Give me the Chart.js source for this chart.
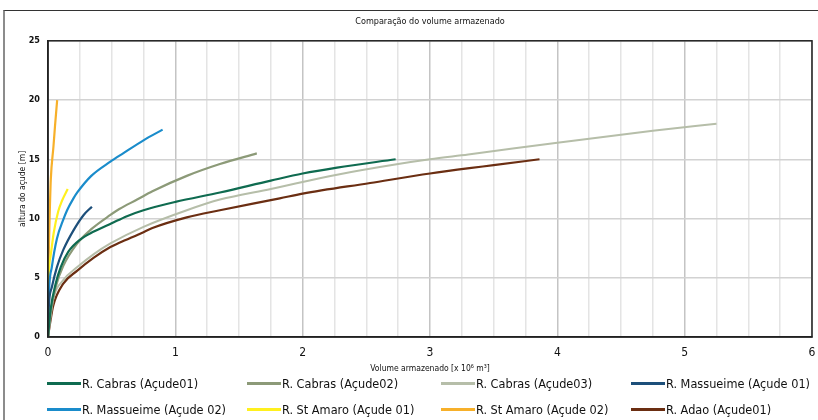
<!DOCTYPE html>
<html><head><meta charset="utf-8">
<script src="https://cdn.jsdelivr.net/npm/chart.js@4/dist/chart.umd.min.js"></script>
<style>
html,body{margin:0;padding:0;background:#fff;}
#wrap{position:relative;width:818px;height:420px;overflow:hidden;background:#fff;}
#frame{position:absolute;left:3px;top:10px;width:830px;height:430px;border-top:1px solid #333;border-left:2px solid #8c8c8c;box-sizing:border-box;pointer-events:none;}
#c{position:absolute;left:0;top:0;}
#legend{position:absolute;left:0;top:0;width:818px;height:420px;font-family:"DejaVu Sans Condensed","DejaVu Sans",sans-serif;font-size:12.6px;color:#111;pointer-events:none;}
.item{position:absolute;display:flex;align-items:center;white-space:nowrap;height:16px;}
.sw{width:34px;height:3px;margin-right:1px;}
</style>
</head><body>
<div id="wrap">
<canvas id="c" width="818" height="420"></canvas>
<div id="frame"></div>
<div id="legend"></div>
</div>
<script>
// ---- data (volume x10^6 m3, height m) ----
const seriesNames = [
  "R. Cabras (Açude01)", "R. Cabras (Açude02)", "R. Cabras (Açude03)", "R. Massueime (Açude 01)",
  "R. Massueime (Açude 02)", "R. St Amaro (Açude 01)", "R. St Amaro (Açude 02)", "R. Adao (Açude01)"
];
const seriesColors = ["#0f6b50", "#8c9a78", "#b6bea9", "#1d4f7a", "#1a8ccb", "#fff01e", "#f7b02a", "#6b2e12"];

const cabras01 = [[0,0],[0.02,2.3],[0.06,4.5],[0.1,5.9],[0.16,7.2],[0.25,8.2],[0.36,8.9],[0.5,9.6],[0.62,10.2],[0.75,10.7],[1.0,11.4],[1.35,12.2],[1.75,13.2],[2.0,13.8],[2.27,14.3],[2.73,15.0]];
const cabras02 = [[0,0],[0.02,2.0],[0.06,4.2],[0.12,6.0],[0.23,7.9],[0.34,9.1],[0.49,10.3],[0.56,10.8],[0.7,11.6],[0.82,12.3],[1.09,13.6],[1.35,14.6],[1.64,15.5]];
const cabras03 = [[0,0],[0.04,3.1],[0.12,4.8],[0.23,5.9],[0.36,7.0],[0.49,7.9],[0.75,9.3],[1.09,10.7],[1.35,11.6],[1.75,12.5],[2.27,13.7],[2.75,14.6],[3.0,15.0],[3.3,15.4],[4.0,16.4],[4.75,17.4],[5.25,18.0]];
const massueime01 = [[0,0],[0.005,2.3],[0.03,4.2],[0.07,5.9],[0.12,7.35],[0.2,9.0],[0.28,10.3],[0.345,11.0]];
const massueime02 = [[0,0],[0.005,3.1],[0.03,5.9],[0.07,8.3],[0.12,9.9],[0.15,10.7],[0.2,11.7],[0.23,12.2],[0.34,13.6],[0.49,14.8],[0.59,15.5],[0.75,16.6],[0.9,17.5]];
const stAmaro01 = [[0,0],[0.004,4.5],[0.02,6.8],[0.045,8.8],[0.08,10.6],[0.11,11.5],[0.155,12.5]];
const stAmaro02 = [[0,0],[0.003,5.0],[0.008,8.0],[0.013,10.2],[0.022,13.3],[0.043,16.1],[0.055,17.8],[0.072,20.0]];
const adao01 = [[0,0],[0.02,1.4],[0.04,2.6],[0.12,4.5],[0.23,5.6],[0.36,6.7],[0.49,7.6],[0.56,7.95],[0.75,8.85],[0.82,9.2],[1.09,10.1],[1.35,10.7],[1.82,11.7],[2.0,12.1],[2.53,13.0],[3.0,13.8],[3.31,14.25],[3.5,14.5],[3.86,15.0]];

const seriesData = [cabras01, cabras02, cabras03, massueime01, massueime02, stAmaro01, stAmaro02, adao01];
const xTicks = [0,1,2,3,4,5,6];
const yTicks = [0,5,10,15,20,25];
const titleText = "Comparação do volume armazenado";
const xTitle = "Volume armazenado [x 10⁶ m³]";
const yTitle = "altura do açude [m]";

const narrow = '"DejaVu Sans Condensed","DejaVu Sans",sans-serif';

const borderPlugin = {
  id: 'plotBorder',
  afterDraw(chart) {
    const {ctx, chartArea: a} = chart;
    ctx.save();
    ctx.strokeStyle = '#222';
    ctx.lineWidth = 1.5;
    ctx.strokeRect(a.left, a.top, a.right - a.left, a.bottom - a.top);
    ctx.restore();
  }
};

const datasets = seriesData.map((d, i) => ({
  label: seriesNames[i],
  data: d.map(p => ({x: p[0], y: p[1]})),
  borderColor: seriesColors[i],
  backgroundColor: seriesColors[i],
  borderWidth: i === 2 ? 2 : 2.2,
  pointRadius: 0,
  showLine: true,
  cubicInterpolationMode: 'monotone',
  fill: false
}));

new Chart(document.getElementById('c'), {
  type: 'scatter',
  data: {datasets},
  options: {
    responsive: false,
    animation: false,
    layout: {padding: {left: 0, right: 6, top: 0, bottom: 46}},
    plugins: {
      legend: {display: false},
      tooltip: {enabled: false},
      title: {
        display: true, text: titleText, fullSize: false,
        color: '#111', font: {family: narrow, size: 9, weight: 'normal'},
        padding: {top: 16, bottom: 14}
      }
    },
    scales: {
      x: {
        type: 'linear', min: 0, max: 6,
        afterBuildTicks: s => { const t = []; for (let k = 0; k <= 24; k++) t.push({value: k / 4}); s.ticks = t; },
        afterFit: s => { s.height = 37; s.paddingRight = 0; s.paddingLeft = 0; },
        ticks: {
          autoSkip: false, maxRotation: 0, padding: 9,
          color: '#111', font: {family: narrow, size: 12},
          callback: v => xTicks.includes(v) ? String(v) : ''
        },
        grid: {
          drawTicks: false,
          color: c => (c.tick && Number.isInteger(c.tick.value)) ? '#c4c4c4' : '#e4e4e4',
          lineWidth: 1.5
        },
        border: {display: true, color: '#222', width: 1.5},
        title: {display: true, text: xTitle, color: '#111', font: {family: narrow, size: 8.5}, padding: {top: 3, bottom: 0}}
      },
      y: {
        type: 'linear', min: 0, max: 25,
        afterBuildTicks: s => { s.ticks = yTicks.map(v => ({value: v})); },
        afterFit: s => { s.width = 48; },
        ticks: {padding: 8, color: '#111', font: {family: narrow, size: 9, weight: 'bold'}},
        grid: {drawTicks: false, color: '#d2d2d2', lineWidth: 1.5},
        border: {display: true, color: '#222', width: 1.5},
        title: {display: true, text: yTitle, color: '#111', font: {family: narrow, size: 8.5}, padding: {top: 18, bottom: 0}}
      }
    }
  },
  plugins: [borderPlugin]
});

// legend (HTML) built from the series arrays
const legendLeft = [47, 247, 441, 631];
const legendTop = [375, 401];
const leg = document.getElementById('legend');
seriesNames.forEach((name, i) => {
  const it = document.createElement('div');
  it.className = 'item';
  it.style.left = legendLeft[i % 4] + 'px';
  it.style.top = legendTop[Math.floor(i / 4)] + 'px';
  const sw = document.createElement('span');
  sw.className = 'sw';
  sw.style.background = seriesColors[i];
  const tx = document.createElement('span');
  tx.textContent = name;
  it.appendChild(sw); it.appendChild(tx);
  leg.appendChild(it);
});
</script>
</body></html>
